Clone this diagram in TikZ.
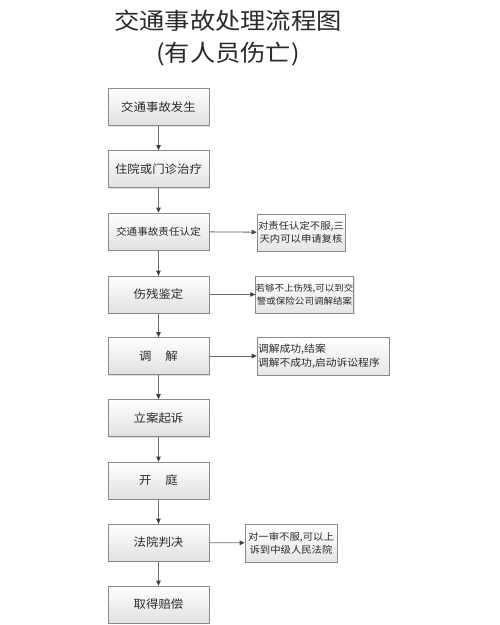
\documentclass[tikz,border=0pt]{standalone}
\usepackage{fontspec}
\setmainfont{Noto Sans CJK SC}[FakeStretch=1.08]
\newfontfamily\titlefont{Noto Sans CJK SC}[FakeStretch=1.1]
\usetikzlibrary{arrows.meta,shadows}
\definecolor{edgegray}{HTML}{8A8A8A}
\definecolor{linegray}{HTML}{6E6E6E}
\definecolor{tipgray}{HTML}{404040}
\definecolor{txtgray}{HTML}{2A2A2A}
\tikzset{
  stepbox/.style={draw=edgegray, line width=0.7pt, top color=white, bottom color=black!12,
    minimum width=101pt, minimum height=37pt, inner sep=0pt, text=txtgray,
    font=\fontsize{11.5pt}{13pt}\selectfont,
    drop shadow={shadow xshift=1.2pt, shadow yshift=-1.2pt, opacity=0.25}},
  notebox/.style={draw=edgegray, line width=0.7pt, top color=white, bottom color=black!10,
    inner sep=0pt, text=txtgray, align=center,
    font=\fontsize{9.6pt}{13pt}\selectfont,
    drop shadow={shadow xshift=1.2pt, shadow yshift=-1.2pt, opacity=0.25}},
  flow/.style={draw=linegray, line width=0.8pt, -{Triangle[length=5pt,width=4.5pt,color=tipgray]}},
}
\begin{document}
\begin{tikzpicture}[x=1pt,y=-1pt]
\useasboundingbox[fill=white] (0,0) rectangle (500,625);
\node[text=txtgray, font=\titlefont\fontsize{23pt}{26pt}\selectfont] (t1) at (228,21) {交通事故处理流程图};
\node[text=txtgray, font=\titlefont\fontsize{23pt}{26pt}\selectfont] (t2) at (228,54) {(有人员伤亡)};

\node[stepbox] (s1) at (158.5,107) {交通事故发生};
\node[stepbox] (s2) at (158.5,169) {住院或门诊治疗};
\node[stepbox, font=\fontsize{9.8pt}{12pt}\selectfont] (s3) at (158.5,231.5) {交通事故责任认定};
\node[stepbox] (s4) at (158.5,294.5) {伤残鉴定};
\node[stepbox] (s5) at (158.5,356) {调\hspace{1.2em}解};
\node[stepbox] (s6) at (158.5,418) {立案起诉};
\node[stepbox] (s7) at (158.5,480.5) {开\hspace{1.2em}庭};
\node[stepbox] (s8) at (158.5,542.5) {法院判决};
\node[stepbox] (s9) at (158.5,604.5) {取得赔偿};

\node[notebox, minimum width=88pt, minimum height=37pt] (n1) at (301,232.5) {对责任认定不服,三\\天内可以申请复核};
\node[notebox, minimum width=95pt, minimum height=37pt, font=\fontsize{8.8pt}{13pt}\selectfont] (n2) at (304.5,294.5) {若够不上伤残,可以到交\\警或保险公司调解结案};
\node[notebox, minimum width=132pt, minimum height=38pt, align=left, text width=130pt, font=\fontsize{10pt}{13.5pt}\selectfont] (n3) at (323,356) {调解成功,结案\\调解不成功,启动诉讼程序};
\node[notebox, minimum width=92pt, minimum height=38pt] (n4) at (291,543) {对一审不服,可以上\\诉到中级人民法院};

\foreach \a/\b in {s1/s2,s2/s3,s3/s4,s4/s5,s5/s6,s6/s7,s7/s8,s8/s9}
  \draw[flow] (\a) -- (\b);
\draw[flow] (s3) -- (n1);
\draw[flow] (s4) -- (n2);
\draw[flow] (s5) -- (n3);
\draw[flow] (s8) -- (n4);
\end{tikzpicture}
\end{document}
